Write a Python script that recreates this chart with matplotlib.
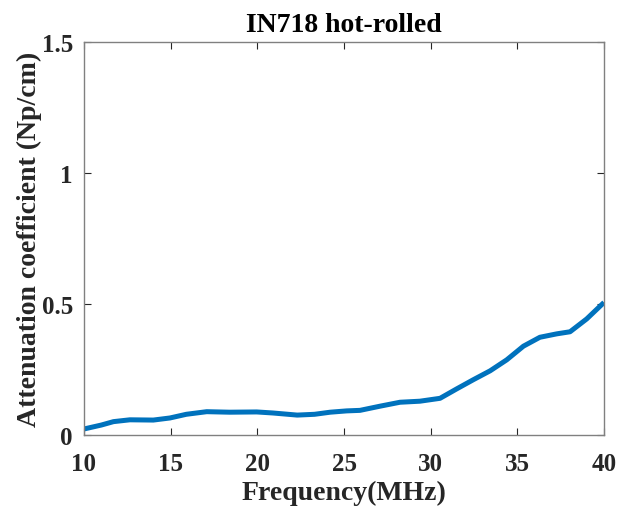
import numpy as np
import matplotlib
matplotlib.use('Agg')
import matplotlib.pyplot as plt

# Values
freq_mhz = [10.0, 11.0, 11.7, 12.65, 14.0, 14.96, 15.9, 17.08, 18.4, 19.96, 20.9, 22.3,
            23.3, 24.2, 25.15, 25.92, 27.08, 28.23, 29.38, 30.54, 31.5, 32.46, 33.43,
            34.39, 35.35, 36.3, 37.27, 38.04, 39.0, 40.0]
atten = [0.023, 0.038, 0.051, 0.058, 0.057, 0.065, 0.079, 0.089, 0.087, 0.088, 0.084,
         0.076, 0.079, 0.087, 0.092, 0.094, 0.110, 0.125, 0.129, 0.140, 0.176, 0.211,
         0.245, 0.287, 0.339, 0.373, 0.386, 0.394, 0.443, 0.506]

x_ticks = [10, 15, 20, 25, 30, 35, 40]
y_ticks = [0, 0.5, 1, 1.5]
y_tick_labels = ['0', '0.5', '1', '1.5']

plt.rcParams['font.family'] = ['Liberation Serif', 'DejaVu Serif']
plt.rcParams['font.weight'] = 'bold'

fig = plt.figure(figsize=(6.19, 5.10), dpi=100)
ax = fig.add_axes([0.1357, 0.1451, 0.8401, 0.7706])

ax.plot(freq_mhz, atten, color='#0072BD', linewidth=3.6,
        solid_capstyle='butt', solid_joinstyle='round')

ax.set_xlim(10, 40)
ax.set_ylim(0, 1.5)
ax.set_xticks(x_ticks)
ax.set_yticks(y_ticks)
ax.set_yticklabels(y_tick_labels)

ax.tick_params(direction='in', length=5, width=0.8, colors='#262626',
               labelsize=18, top=True, right=True)
ax.tick_params(axis='x', pad=12)
ax.tick_params(axis='y', pad=8)
for lab in ax.get_xticklabels() + ax.get_yticklabels():
    lab.set_fontweight('bold')
for sp in ax.spines.values():
    sp.set_color('#808080')
    sp.set_linewidth(1.0)

ax.set_xlabel('Frequency(MHz)', fontsize=20, fontweight='bold', color='#262626', labelpad=4)
ax.set_ylabel('Attenuation coefficient (Np/cm)', fontsize=20, fontweight='bold',
              color='#262626', labelpad=0)
ax.set_title('IN718 hot-rolled', fontsize=20, fontweight='bold', color='black', pad=8)

fig.savefig('out.png', dpi=100)
